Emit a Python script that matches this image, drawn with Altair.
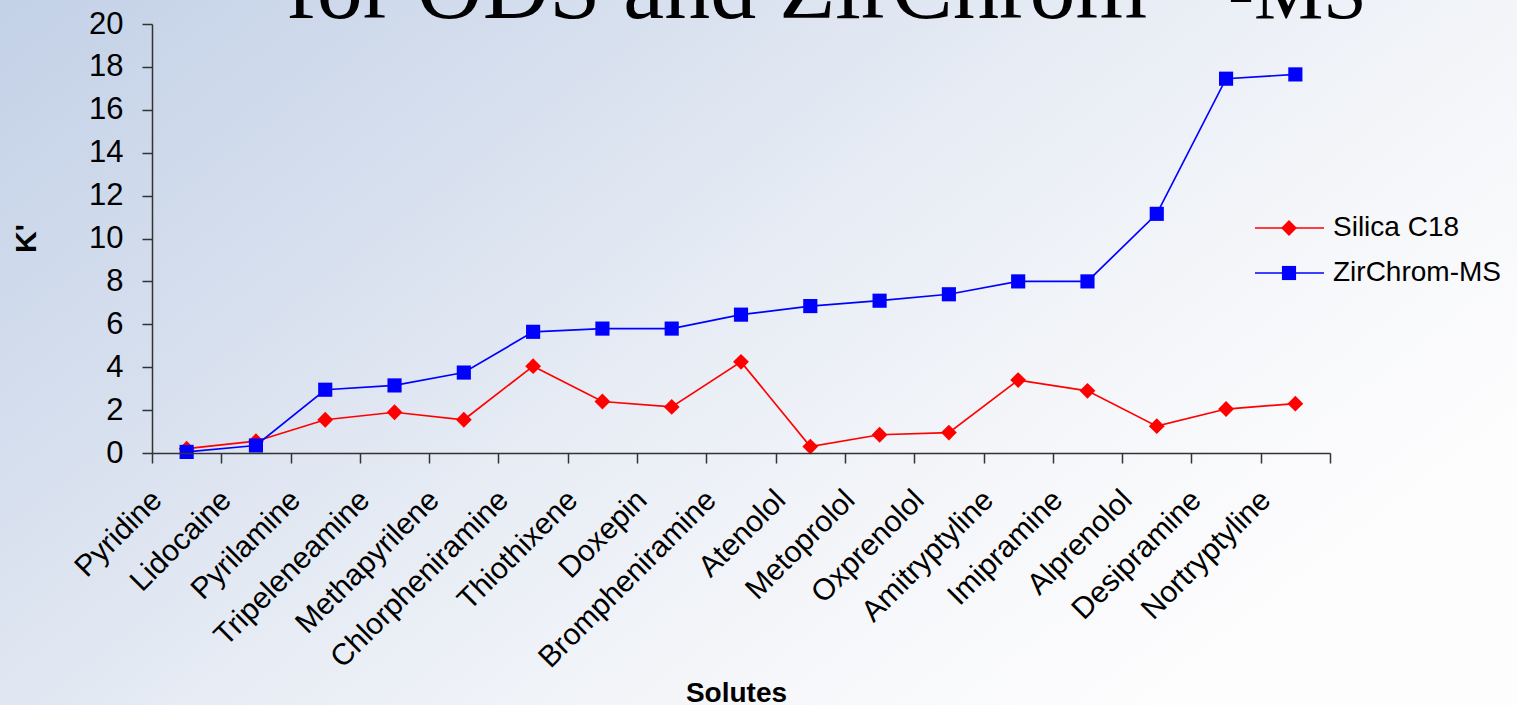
import altair as alt
import pandas as pd

# ---------------- data ----------------
solutes = ["Pyridine", "Lidocaine", "Pyrilamine", "Tripeleneamine", "Methapyrilene",
           "Chlorpheniramine", "Thiothixene", "Doxepin", "Brompheniramine", "Atenolol",
           "Metoprolol", "Oxprenolol", "Amitryptyline", "Imipramine", "Alprenolol",
           "Desipramine", "Nortryptyline"]
silica_c18 = [0.2, 0.55, 1.55, 1.9, 1.55, 4.05, 2.4, 2.15, 4.25, 0.3,
              0.85, 0.95, 3.4, 2.9, 1.25, 2.05, 2.3]
zirchrom_ms = [0.05, 0.35, 2.95, 3.15, 3.75, 5.65, 5.8, 5.8, 6.45, 6.85,
               7.1, 7.4, 8.0, 8.0, 11.15, 17.45, 17.65]
series_names = ["Silica C18", "ZirChrom-MS"]
series_colors = ["#ff0000", "#0000ff"]
series_shapes = ["diamond", "square"]
y_ticks = [0, 2, 4, 6, 8, 10, 12, 14, 16, 18, 20]
title_parts = ["for ODS and ZirChrom", "\u00ae", "-MS"]

df = pd.DataFrame({
    "solute": solutes * 2,
    "series": [series_names[0]] * len(solutes) + [series_names[1]] * len(solutes),
    "k": silica_c18 + zirchrom_ms,
})
legend_df = pd.DataFrame({"series": series_names})

SANS = "Liberation Sans"
SERIF = "Liberation Serif"

color = alt.Color("series:N", scale=alt.Scale(domain=series_names, range=series_colors), legend=None)
shape = alt.Shape("series:N", scale=alt.Scale(domain=series_names, range=series_shapes), legend=None)
msize = alt.Size("series:N", scale=alt.Scale(domain=series_names, range=[250, 200]), legend=None)

x = alt.X(
    "solute:N", sort=solutes,
    scale=alt.Scale(type="band", paddingInner=0, paddingOuter=0),
    axis=alt.Axis(
        title="Solutes", labelAngle=-45, labelAlign="right", labelBaseline="middle",
        labelOffset=-30, labelPadding=32, tickBand="extent", tickSize=10,
        labelFontSize=30, labelFont=SANS, labelColor="#000", labelLimit=500,
        labelOverlap=False, labelBound=False,
        titleX=584, titleY=240, titleFontSize=28, titleFont=SANS, titleFontWeight="bold",
        titleBaseline="middle", titleAlign="center", titleColor="#000",
        domainColor="#333", domainWidth=1.5, tickColor="#333", tickWidth=1.5, grid=False,
        zindex=1,
    ),
)
y = alt.Y(
    "k:Q",
    scale=alt.Scale(domain=[0, 20], nice=False),
    axis=alt.Axis(
        values=y_ticks, title="K'", tickSize=10, labelPadding=19,
        labelFontSize=31, labelFont=SANS, labelColor="#000",
        titleX=-126, titleY=214, titleAngle=-90, titleAlign="center", titleBaseline="middle",
        titleFontSize=30, titleFont=SANS, titleFontWeight="bold", titleColor="#000",
        domainColor="#333", domainWidth=1.5, tickColor="#333", tickWidth=1.5, grid=False,
        zindex=1,
    ),
)

lines = alt.Chart(df).mark_line(strokeWidth=1.7).encode(x=x, y=y, color=color, detail="series:N")
points = alt.Chart(df).mark_point(filled=True, opacity=1).encode(
    x=x, y=y, color=color, shape=shape, size=msize)
main = alt.layer(lines, points)

# legend built from the series list
ly = alt.Y("series:N", scale=alt.Scale(type="point", domain=series_names, range=[204, 249], padding=0), axis=None)
leg_rule = alt.Chart(legend_df).mark_rule(strokeWidth=1.7).encode(
    x=alt.value(1103), x2=alt.value(1172), y=ly, color=color)
leg_pts = alt.Chart(legend_df).mark_point(filled=True, opacity=1).encode(
    x=alt.value(1137), y=ly, color=color, shape=shape, size=msize)
leg_txt = alt.Chart(legend_df).mark_text(align="left", baseline="middle", fontSize=28, font=SANS, color="#000").encode(
    x=alt.value(1181), y=ly, text="series:N")
legend = alt.layer(leg_rule, leg_pts, leg_txt)

# slide background gradient
bg = alt.Chart(pd.DataFrame({"a": [0]})).mark_rect(
    fill=alt.LinearGradient(
        gradient="linear", x1=0, y1=0, x2=1, y2=0.6,
        stops=[
            alt.GradientStop(color="#c3d1e7", offset=0),
            alt.GradientStop(color="#d6dfee", offset=0.3),
            alt.GradientStop(color="#e8edf5", offset=0.55),
            alt.GradientStop(color="#f6f7fa", offset=0.8),
            alt.GradientStop(color="#fdfdfe", offset=1),
        ],
    ),
    strokeWidth=0,
).encode(x=alt.value(-152), x2=alt.value(1365), y=alt.value(-24), y2=alt.value(681))

# slide title (only its lower part is visible)
t1 = alt.Chart(pd.DataFrame({"t": [title_parts[0]]})).mark_text(
    align="left", baseline="alphabetic", font=SERIF, fontSize=92, color="#000").encode(
    text="t:N", x=alt.value(134), y=alt.value(-6))
t2 = alt.Chart(pd.DataFrame({"t": [title_parts[1]]})).mark_text(
    align="center", baseline="alphabetic", font=SERIF, fontSize=50, color="#000").encode(
    text="t:N", x=alt.value(1036), y=alt.value(-45))
t3 = alt.Chart(pd.DataFrame({"t": [title_parts[2]]})).mark_text(
    align="left", baseline="alphabetic", font=SERIF, fontSize=78, color="#000").encode(
    text="t:N", x=alt.value(1076), y=alt.value(-6))

chart = alt.layer(bg, t1, t2, t3, main, legend).resolve_scale(y="independent").properties(
    width=1178, height=429,
    padding={"left": 152, "top": 24, "right": 187, "bottom": 252},
    autosize=alt.AutoSizeParams(type="none"),
).configure_view(stroke=None).configure(background="#ffffff")

chart.save("out.html", embed_options={"renderer": "svg", "actions": False})
